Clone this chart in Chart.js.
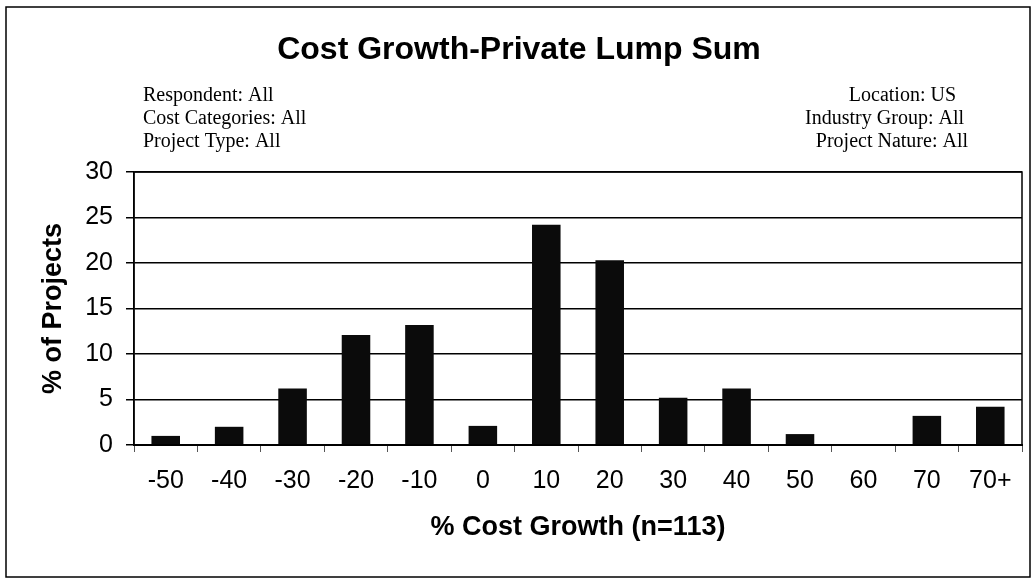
<!DOCTYPE html>
<html>
<head>
<meta charset="utf-8">
<script src="https://cdn.jsdelivr.net/npm/chart.js@4.4.1/dist/chart.umd.min.js"></script>
<style>
  html, body { margin: 0; padding: 0; background: #ffffff; }
  #wrap { position: relative; width: 1032px; height: 580px; }
</style>
</head>
<body>
<div id="wrap"><canvas id="c" width="1032" height="580"></canvas></div>
<script>
const chartTitle = 'Cost Growth-Private Lump Sum';
const leftNotes = ['Respondent: All', 'Cost Categories: All', 'Project Type: All'];
const rightNotes = ['Location: US', 'Industry Group: All', 'Project Nature: All'];
const categories = ['-50', '-40', '-30', '-20', '-10', '0', '10', '20', '30', '40', '50', '60', '70', '70+'];
const percentProjects = [1.0, 2.0, 6.2, 12.1, 13.2, 2.1, 24.2, 20.3, 5.2, 6.2, 1.2, 0, 3.2, 4.2];
const yMin = 0, yMax = 30, yStep = 5;
const xAxisTitle = '% Cost Growth (n=113)';
const yAxisTitle = '% of Projects';

const sans = '"Liberation Sans", Arial, Helvetica, sans-serif';
const serif = '"Liberation Serif", "Times New Roman", serif';

const framePlugin = {
  id: 'frame',
  afterDraw(chart) {
    const ctx = chart.ctx;
    const a = chart.chartArea;
    ctx.save();
    ctx.strokeStyle = '#000';
    ctx.lineWidth = 1.5;
    ctx.strokeRect(6, 7, 1024, 570);
    ctx.strokeRect(a.left, a.top, a.right - a.left, a.bottom - a.top);
    ctx.fillStyle = '#000';
    ctx.font = 'bold 32px ' + sans;
    ctx.textAlign = 'center';
    ctx.textBaseline = 'alphabetic';
    ctx.fillText(chartTitle, 519, 59);
    ctx.font = '20px ' + serif;
    ctx.textAlign = 'left';
    const ys = [101, 124, 147];
    leftNotes.forEach((t, i) => ctx.fillText(t, 143, ys[i]));
    ctx.textAlign = 'right';
    const rx = [956, 964, 968];
    rightNotes.forEach((t, i) => ctx.fillText(t, rx[i], ys[i]));
    ctx.restore();
  }
};

new Chart(document.getElementById('c'), {
  type: 'bar',
  data: {
    labels: categories,
    datasets: [{
      data: percentProjects,
      backgroundColor: '#0b0b0b',
      borderWidth: 0,
      barPercentage: 0.45,
      categoryPercentage: 1.0
    }]
  },
  plugins: [framePlugin],
  options: {
    responsive: false,
    animation: false,
    devicePixelRatio: 1,
    layout: { padding: { left: 0, right: 10, top: 172, bottom: 0 } },
    plugins: {
      legend: { display: false },
      title: { display: false },
      tooltip: { enabled: false }
    },
    scales: {
      x: {
        offset: true,
        grid: { display: true, drawOnChartArea: false, offset: true, color: '#555', lineWidth: 1, tickLength: 7 },
        border: { display: true, color: '#000', width: 2 },
        ticks: { color: '#000', font: { family: sans, size: 25 }, padding: 14, maxRotation: 0, autoSkip: false },
        title: { display: true, text: xAxisTitle, color: '#000', font: { family: sans, size: 27, weight: 'bold' }, padding: { top: 0, bottom: 36 } },
        afterFit(scale) { scale.height = 135; }
      },
      y: {
        min: yMin, max: yMax,
        ticks: { stepSize: yStep, color: '#000', font: { family: sans, size: 25 }, padding: 13 },
        grid: { color: '#000', lineWidth: 1.5, tickLength: 8 },
        border: { display: true, color: '#000', width: 1.5 },
        title: { display: true, text: yAxisTitle, color: '#000', font: { family: sans, size: 27, weight: 'bold' }, padding: { top: 37, bottom: 0 } },
        afterFit(scale) { scale.width = 134; }
      }
    }
  }
});
</script>
</body>
</html>
